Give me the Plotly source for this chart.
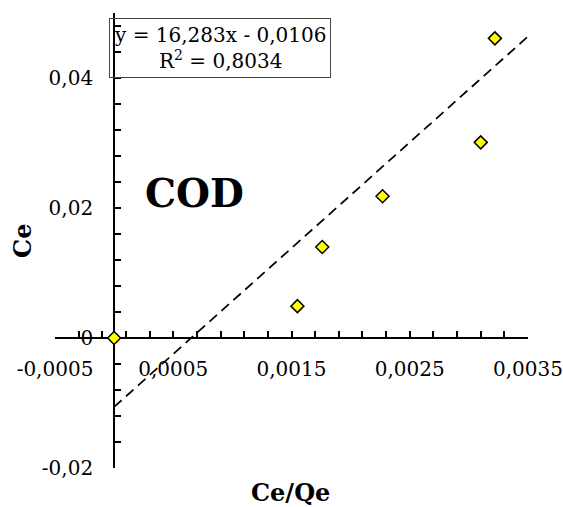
import plotly.graph_objects as go

# Langmuir linearisation for COD: Ce/Qe against Ce
ce_qe = [0.0, 0.00155, 0.00176, 0.00227, 0.00310, 0.00322]
ce = [0.0, 0.0049, 0.0140, 0.0218, 0.0301, 0.0461]

# Fitted trendline reported on the chart
slope = 16.283
intercept = -0.0106
r_squared = 0.8034
fit_x = [0.0, 0.0035]
fit_y = [slope * v + intercept for v in fit_x]

x_range = [-0.0005, 0.0035]
y_range = [-0.02, 0.05]

x_tick_vals = [-0.0005, 0.0005, 0.0015, 0.0025, 0.0035]
x_tick_text = ["-0,0005", "0,0005", "0,0015", "0,0025", "0,0035"]
y_tick_vals = [-0.02, 0.0, 0.02, 0.04]
y_tick_text = ["-0,02", "0", "0,02", "0,04"]

SERIF = "DejaVu Serif"


def fmt(v, nd):
    return f"{v:.{nd}f}".replace(".", ",")


fig = go.Figure()

fig.add_trace(go.Scatter(
    x=fit_x, y=fit_y, mode="lines",
    line=dict(color="black", width=1.75, dash="10px,6px"),
    hoverinfo="skip", showlegend=False,
))

fig.add_trace(go.Scatter(
    x=ce_qe, y=ce, mode="markers",
    marker=dict(symbol="diamond", size=10, color="#FFFF00",
                line=dict(color="black", width=1.5)),
    showlegend=False,
))

# axes cross at the origin
x_cross = (0 - y_range[0]) / (y_range[1] - y_range[0])
y_cross = (0 - x_range[0]) / (x_range[1] - x_range[0])

tick_style = dict(ticks="inside", ticklen=6, tickwidth=2, tickcolor="black")

fig.update_xaxes(
    range=x_range, anchor="free", position=x_cross, automargin=False,
    showline=True, linecolor="black", linewidth=2,
    showgrid=False, zeroline=False,
    tickmode="array", tickvals=x_tick_vals, ticktext=x_tick_text,
    minor=dict(tickmode="linear", tick0=x_range[0], dtick=0.0002, **tick_style),
    tickfont=dict(family=SERIF, size=20, color="black"),
    ticklabelstandoff=13,
    layer="below traces",
    **tick_style,
)
fig.update_yaxes(
    range=y_range, anchor="free", position=y_cross, automargin=False,
    showline=True, linecolor="black", linewidth=2,
    showgrid=False, zeroline=False,
    tickmode="array", tickvals=y_tick_vals, ticktext=y_tick_text,
    minor=dict(tickmode="linear", tick0=y_range[0], dtick=0.004, **tick_style),
    tickfont=dict(family=SERIF, size=20, color="black"),
    ticklabelstandoff=16,
    layer="below traces",
    **tick_style,
)

eq_text = (f"y = {fmt(slope, 3)}x - {fmt(-intercept, 4)}<br>"
           f"R<sup>2</sup> = {fmt(r_squared, 4)}")

fig.add_annotation(
    text=eq_text, xref="paper", yref="paper", x=0.349, y=0.9235,
    xanchor="center", yanchor="middle", showarrow=False, align="center",
    font=dict(family=SERIF, size=20, color="black"),
    bordercolor="#444444", borderwidth=1, borderpad=4,
)
fig.add_annotation(
    text="<b>COD</b>", x=0.00068, y=0.0223, showarrow=False,
    font=dict(family=SERIF, size=39, color="black"),
)
fig.add_annotation(
    text="<b>Ce/Qe</b>", xref="paper", yref="paper", x=0.4985, y=-0.0545,
    xanchor="center", yanchor="middle", showarrow=False,
    font=dict(family=SERIF, size=24, color="black"),
)
fig.add_annotation(
    text="<b>Ce</b>", xref="paper", yref="paper", x=-0.069, y=0.4998,
    xanchor="center", yanchor="middle", showarrow=False, textangle=-90,
    font=dict(family=SERIF, size=24, color="black"),
)

fig.update_layout(
    width=563, height=507,
    margin=dict(l=55, r=35, t=13, b=39),
    paper_bgcolor="white", plot_bgcolor="white",
    showlegend=False,
)

fig.write_html("out.html")
